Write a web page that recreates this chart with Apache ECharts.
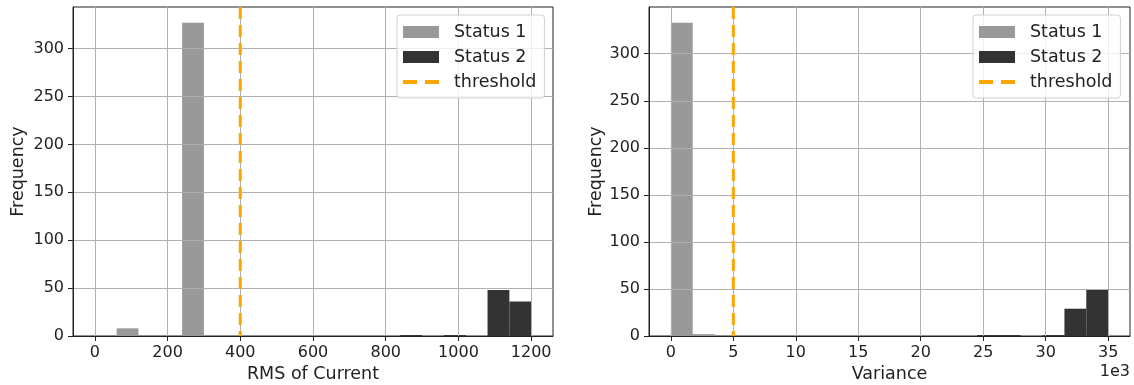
<!DOCTYPE html>
<html>
<head>
<meta charset="utf-8">
<script src="https://cdn.jsdelivr.net/npm/echarts@6/dist/echarts.min.js"></script>
<style>
html,body{margin:0;padding:0;background:#fff;}
#c{width:1134px;height:385px;}
</style>
</head>
<body>
<div id="c"></div>
<script>
// ---- data: histogram bins [binStart, binEnd, count] ----
const rmsStatus1 = [[60, 120, 8], [240, 300, 327]];
const rmsStatus2 = [[840, 900, 1], [960, 1020, 1], [1080, 1140, 48], [1140, 1200, 36]];
const rmsThreshold = [400];

const varStatus1 = [[0, 1750, 333], [1750, 3500, 2]];
const varStatus2 = [[24500, 26250, 1], [26250, 28000, 1], [29750, 31500, 1], [31500, 33250, 29], [33250, 35000, 49]];
const varThreshold = [5000];

// ---- tick labels ----
const rmsTicks = [0, 200, 400, 600, 800, 1000, 1200];
const varTicks = [0, 5000, 10000, 15000, 20000, 25000, 30000, 35000];
const freqTicks = [0, 50, 100, 150, 200, 250, 300];

const FONT = 'DejaVu Sans';
const C1 = '#999999', C2 = '#333333', CT = '#FFA500';

function histSeries(name, data, color, idx) {
  return {
    type: 'custom', name: name, xAxisIndex: idx, yAxisIndex: idx, z: 2,
    itemStyle: { color: color },
    encode: { x: [0, 1], y: 2 },
    data: data,
    renderItem: function (params, api) {
      const p0 = api.coord([api.value(0), 0]);
      const p1 = api.coord([api.value(1), api.value(2)]);
      return { type: 'rect', shape: { x: p0[0], y: p1[1], width: p1[0] - p0[0], height: p0[1] - p1[1] },
        style: { fill: color } };
    }
  };
}
function threshSeries(data, idx) {
  return {
    type: 'custom', name: 'threshold', xAxisIndex: idx, yAxisIndex: idx, z: 4,
    itemStyle: { color: CT },
    encode: { x: 0 },
    data: data.map(v => [v]),
    renderItem: function (params, api) {
      const p = api.coord([api.value(0), 0]);
      const cs = params.coordSys;
      return { type: 'line', shape: { x1: p[0], y1: cs.y, x2: p[0], y2: cs.y + cs.height },
        style: { stroke: CT, lineWidth: 3, lineDash: [12, 6], fill: null } };
    }
  };
}
function xAxis(idx, min, max, ticks, name, fmt) {
  return {
    type: 'value', gridIndex: idx, min: min, max: max, z: 3,
    name: name, nameLocation: 'middle', nameGap: 29,
    nameTextStyle: { fontFamily: FONT, fontSize: 17.5, color: '#222' },
    axisLine: { show: true, onZero: false, lineStyle: { color: '#222', width: 1 } },
    axisTick: { show: true, length: 5, customValues: ticks, lineStyle: { color: '#222' } },
    axisLabel: { customValues: ticks, margin: 9, fontFamily: FONT, fontSize: 16, color: '#222', formatter: fmt },
    splitLine: { show: true, lineStyle: { color: '#b0b0b0', width: 1 } }
  };
}
function yAxis(idx, max, gap) {
  return {
    type: 'value', gridIndex: idx, min: 0, max: max, z: 3,
    name: 'Frequency', nameLocation: 'middle', nameGap: gap,
    nameTextStyle: { fontFamily: FONT, fontSize: 17.5, color: '#222' },
    axisLine: { show: true, onZero: false, lineStyle: { color: '#222', width: 1 } },
    axisTick: { show: true, length: 5, customValues: freqTicks, lineStyle: { color: '#222' } },
    axisLabel: { customValues: freqTicks, margin: 9, fontFamily: FONT, fontSize: 16, color: '#222' },
    splitLine: { show: true, lineStyle: { color: '#b0b0b0', width: 1 } }
  };
}
function legend(left) {
  return {
    orient: 'vertical', left: left, top: 15, z: 10,
    itemWidth: 36, itemHeight: 12, itemGap: 7, padding: [8, 8, 7, 6],
    borderColor: '#d0d0d0', borderWidth: 1, borderRadius: 3,
    backgroundColor: 'rgba(255,255,255,0.8)', selectedMode: false,
    textStyle: { fontFamily: FONT, fontSize: 17.5, color: '#222', padding: [0, 0, 0, 10] },
    data: [
      { name: 'Status 1', icon: 'rect' },
      { name: 'Status 2', icon: 'rect' },
      { name: 'threshold', icon: 'path://M0,0H14V4H0ZM22,0H36V4H22Z' }
    ]
  };
}

const chart = echarts.init(document.getElementById('c'), null, { renderer: 'canvas' });
chart.setOption({
  animation: false,
  backgroundColor: '#fff',
  grid: [
    { left: 73, right: 581, top: 7, bottom: 49, show: true, borderColor: '#222', borderWidth: 1, containLabel: false, outerBoundsMode: 'none' },
    { left: 649, right: 4, top: 7, bottom: 49, show: true, borderColor: '#222', borderWidth: 1, containLabel: false, outerBoundsMode: 'none' }
  ],
  legend: [legend(397), legend(973)],
  xAxis: [
    xAxis(0, -60, 1260, rmsTicks, 'RMS of Current', v => String(v)),
    xAxis(1, -1750, 36750, varTicks, 'Variance', v => String(v / 1000))
  ],
  yAxis: [yAxis(0, 343.35, 46), yAxis(1, 349.65, 44)],
  graphic: [
    { type: 'text', right: 4, top: 364, style: { text: '1e3', font: '16px "DejaVu Sans"', fill: '#222' } }
  ],
  series: [
    histSeries('Status 1', rmsStatus1, C1, 0),
    histSeries('Status 2', rmsStatus2, C2, 0),
    threshSeries(rmsThreshold, 0),
    histSeries('Status 1', varStatus1, C1, 1),
    histSeries('Status 2', varStatus2, C2, 1),
    threshSeries(varThreshold, 1)
  ]
});
</script>
</body>
</html>
